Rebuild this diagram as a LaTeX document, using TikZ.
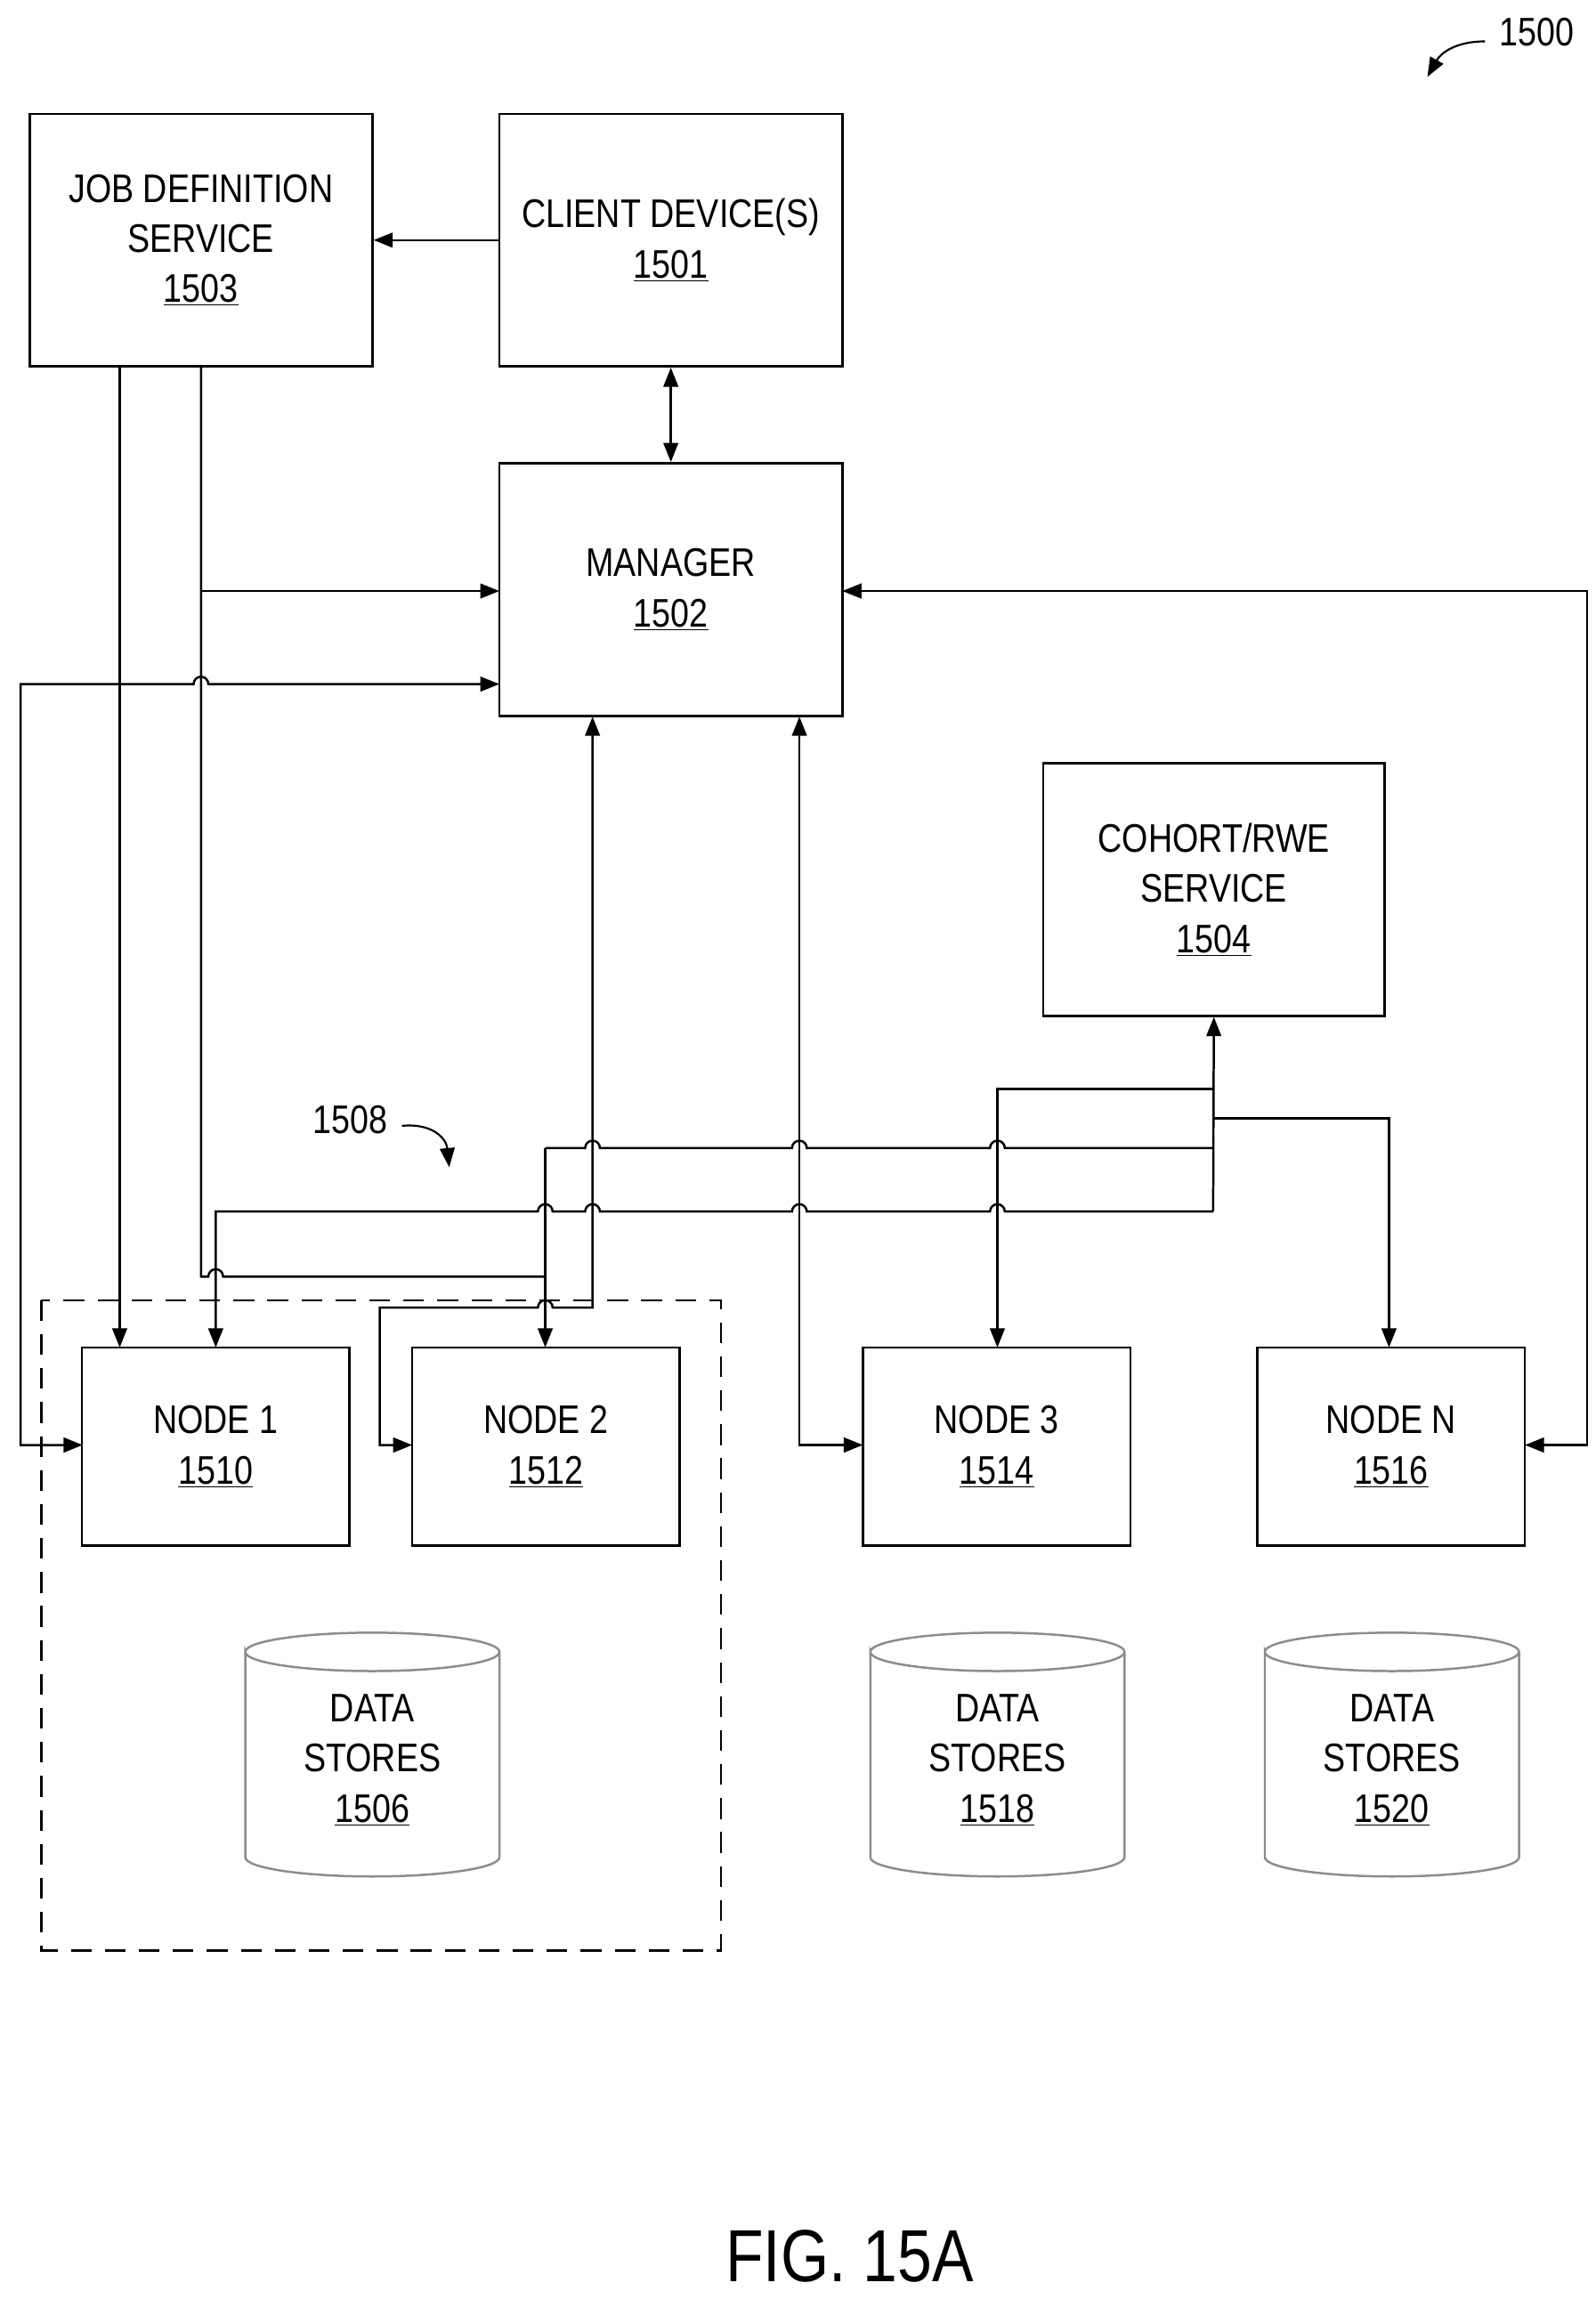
\documentclass[tikz,border=0pt]{standalone}
\usepackage{fontspec}
\setmainfont{Liberation Sans}[FakeStretch=0.84]
\usetikzlibrary{arrows.meta}
\begin{document}
\begin{tikzpicture}[x=1pt,y=-1pt,
  box/.style={draw,line width=1.6,minimum width=232,minimum height=171,inner sep=0,align=center,font=\fontsize{27}{34}\selectfont},
  nbox/.style={draw,line width=1.6,minimum width=181,minimum height=134,inner sep=0,align=center,font=\fontsize{27}{34}\selectfont},
  ln/.style={line width=1.5},
  tip/.style={-{Triangle[length=13,width=10]}},
  dtip/.style={{Triangle[length=13,width=10]}-{Triangle[length=13,width=10]}},
  cyl/.style={draw=black!45,line width=1.5},
  txt/.style={align=center,font=\fontsize{27}{34}\selectfont}]
\useasboundingbox (0,0) rectangle (1080,1556);
\node[box] (jds) at (136,162.5) {JOB DEFINITION\\SERVICE\\\underline{1503}};
\node[box] (cli) at (454,162.5) {CLIENT DEVICE(S)\\\underline{1501}};
\node[box] (mgr) at (454,399) {MANAGER\\\underline{1502}};
\node[box,minimum width=231] (coh) at (821.5,602) {COHORT/RWE\\SERVICE\\\underline{1504}};
\node[nbox] (n1) at (146,979) {NODE 1\\\underline{1510}};
\node[nbox] (n2) at (369.5,979) {NODE 2\\\underline{1512}};
\node[nbox] (n3) at (674.5,979) {NODE 3\\\underline{1514}};
\node[nbox] (nn) at (941.5,979) {NODE N\\\underline{1516}};
\draw[dashed,line width=1.5,dash pattern=on 14 off 9] (28,880) rectangle (488,1320);
% cylinders
\foreach \cx/\n/\nm in {252/1506/c1,675/1518/c2,942/1520/c3}{
  \draw[cyl] (\cx-86,1118) arc(180:360:86 and 13) arc(0:180:86 and 13) -- (\cx-86,1257) arc(180:0:86 and 13) -- (\cx+86,1118);
  \node[txt] (\nm) at (\cx,1191) {DATA\\STORES\\\underline{\n}};
}
% top connectors
\draw[ln,tip] (cli.west) -- (jds.east);
\draw[ln,dtip] (cli.south) -- (mgr.north);
% JDS lines
\draw[ln,tip] (81,248) -- (81,912);
\draw[ln] (136,248) -- (136,864) -- (141,864) arc(180:360:5) -- (369,864);
\draw[ln,tip] (136,400) -- (338,400);
% node1 left <-> manager
\draw[ln,dtip] (56,978) -- (14,978) -- (14,463) -- (131,463) arc(180:360:5) -- (338,463);
% node2 <-> manager
\draw[ln,dtip] (401,485) -- (401,885) -- (374,885) arc(0:-180:5) -- (257,885) -- (257,978) -- (279,978);
% node3 <-> manager
\draw[ln,dtip] (541,485) -- (541,978) -- (584,978);
% nodeN <-> manager
\draw[ln,dtip] (570,400) -- (1074,400) -- (1074,978) -- (1032,978);
% 1508 bus lines
\draw[ln,tip] (369,777) -- (369,912);
\draw[ln] (369,777) -- (396,777) arc(180:360:5) -- (536,777) arc(180:360:5) -- (670,777) arc(180:360:5) -- (821,777);
\draw[ln,tip] (821,820) -- (680,820) arc(0:-180:5) -- (546,820) arc(0:-180:5) -- (406,820) arc(0:-180:5) -- (374,820) arc(0:-180:5) -- (146,820) -- (146,912);
\draw[ln,tip] (821,820) -- (coh.south);
\draw[ln,tip] (821,737) -- (675,737) -- (675,912);
\draw[ln,tip] (821,757) -- (940,757) -- (940,912);
% reference labels
\node[font=\fontsize{27}{34}\selectfont] (l1500) at (1040,22) {1500};
\draw[line width=1.3,tip] (1005,28) .. controls (985,28) and (975,36) .. (966,52);
\node[font=\fontsize{27}{34}\selectfont] (l1508) at (237,758) {1508};
\draw[line width=1.3,tip] (272,762) .. controls (292,760) and (302,770) .. (304,790);
\node[font=\fontsize{50}{56}\selectfont] (fig) at (575,1527) {FIG. 15A};
\end{tikzpicture}
\end{document}
